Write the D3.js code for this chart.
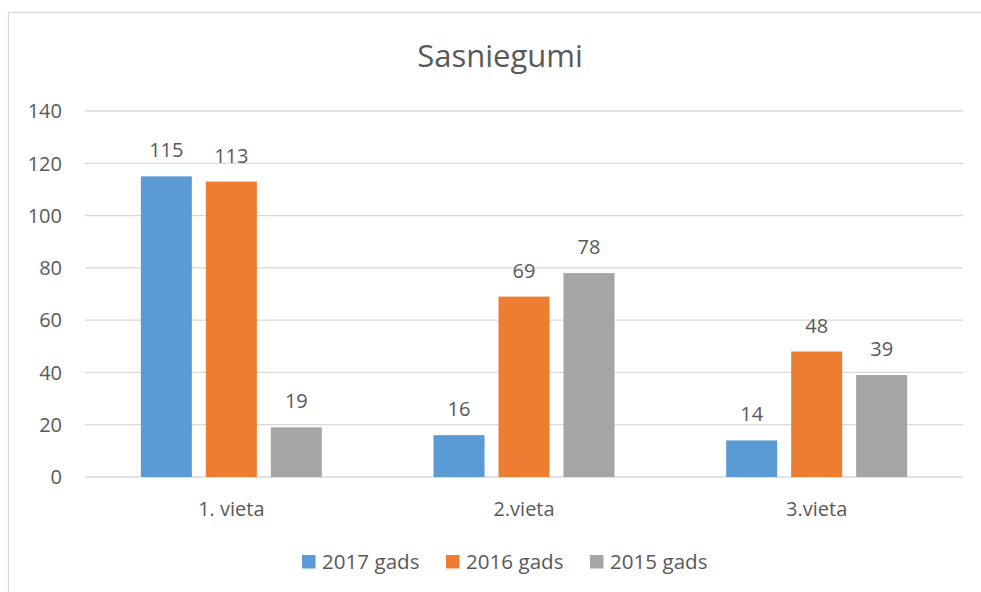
<!DOCTYPE html>
<html>
<head>
<meta charset="utf-8">
<script src="https://cdn.jsdelivr.net/npm/d3@7"></script>
<style>
  body { margin: 0; background: #fff; }
  text { font-family: "Open Sans", sans-serif; fill: #595959; }
</style>
</head>
<body>
<div id="chart"></div>
<script>
// chart data
var categories = ["1. vieta", "2.vieta", "3.vieta"];
var seriesNames = ["2017 gads", "2016 gads", "2015 gads"];
var values2017 = [115, 16, 14];
var values2016 = [113, 69, 48];
var values2015 = [19, 78, 39];
var yTicks = [0, 20, 40, 60, 80, 100, 120, 140];
var colors = ["#5B9BD5", "#ED7D31", "#A5A5A5"];

var allValues = [values2017, values2016, values2015];

var width = 981, height = 592;
var plot = {left: 85, right: 963, top: 111, bottom: 477};

var svg = d3.select("#chart").append("svg")
    .attr("width", width)
    .attr("height", height);

// chart border
svg.append("rect")
    .attr("x", 8.5)
    .attr("y", 12.5)
    .attr("width", 1000)
    .attr("height", 600)
    .attr("fill", "none")
    .attr("stroke", "#d9d9d9")
    .attr("stroke-width", 1.3);

var x = d3.scaleBand()
    .domain(categories)
    .range([plot.left, plot.right]);

var xInner = d3.scaleBand()
    .domain(seriesNames)
    .range([0, 181])
    .paddingInner(0.215);

var y = d3.scaleLinear()
    .domain([0, 140])
    .range([plot.bottom, plot.top]);

// gridlines
svg.append("g")
    .selectAll("line")
    .data(yTicks)
    .enter().append("line")
    .attr("x1", plot.left)
    .attr("x2", plot.right)
    .attr("y1", function(d) { return y(d); })
    .attr("y2", function(d) { return y(d); })
    .attr("stroke", "#d9d9d9")
    .attr("stroke-width", 1.3);

// y axis labels
var yAxis = d3.axisLeft(y)
    .tickValues(yTicks)
    .tickSize(0)
    .tickPadding(0);

var gy = svg.append("g")
    .attr("transform", "translate(62,0)")
    .call(yAxis);
gy.select(".domain").remove();
gy.selectAll("text")
    .style("font-size", "20px")
    .style("font-family", "'Open Sans', sans-serif")
    .attr("fill", "#595959")
    .attr("dy", "0.34em");

// x axis labels
var xAxis = d3.axisBottom(x).tickSize(0).tickPadding(0);
var gx = svg.append("g")
    .attr("transform", "translate(0," + 516 + ")")
    .call(xAxis);
gx.select(".domain").remove();
gx.selectAll("text")
    .style("font-size", "20px")
    .style("font-family", "'Open Sans', sans-serif")
    .attr("fill", "#595959")
    .attr("dy", 0);

// bars
var groups = svg.selectAll(".cat")
    .data(categories)
    .enter().append("g")
    .attr("class", "cat")
    .attr("transform", function(d) {
        return "translate(" + (x(d) + (x.bandwidth() - 181) / 2) + ",0)";
    });

groups.each(function(cat, ci) {
    var g = d3.select(this);
    seriesNames.forEach(function(s, si) {
        var v = allValues[si][ci];
        g.append("rect")
            .attr("x", xInner(s))
            .attr("y", y(v))
            .attr("width", xInner.bandwidth())
            .attr("height", y(0) - y(v))
            .attr("fill", colors[si]);
        g.append("text")
            .attr("x", xInner(s) + xInner.bandwidth() / 2)
            .attr("y", y(v) - 19)
            .attr("text-anchor", "middle")
            .style("font-size", "20px")
            .text(v);
    });
});

// title
svg.append("text")
    .attr("x", 500)
    .attr("y", 67)
    .attr("text-anchor", "middle")
    .style("font-size", "31px")
    .text("Sasniegumi");

// legend
var legend = svg.append("g");
var lx = 302;
seriesNames.forEach(function(s, i) {
    legend.append("rect")
        .attr("x", lx)
        .attr("y", 555)
        .attr("width", 13.5)
        .attr("height", 13.5)
        .attr("fill", colors[i]);
    var t = legend.append("text")
        .attr("x", lx + 20)
        .attr("y", 569)
        .style("font-size", "20.6px")
        .text(s);
    lx = lx + 20 + t.node().getComputedTextLength() + 26.5;
});
</script>
</body>
</html>
